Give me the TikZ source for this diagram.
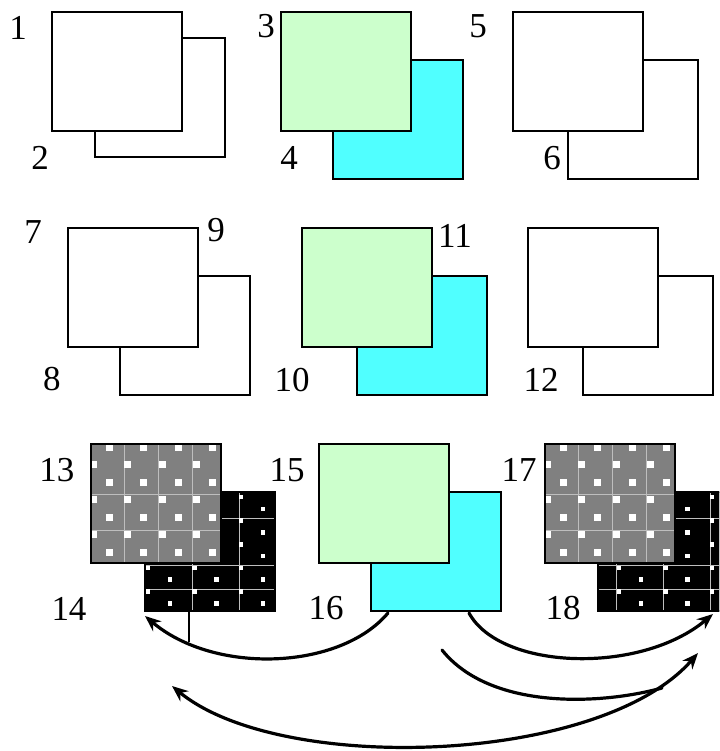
\documentclass[tikz,border=0pt]{standalone}
\usepackage{fontspec}
\setmainfont{Liberation Serif}
\usetikzlibrary{arrows.meta,calc}
\definecolor{leaf}{RGB}{204,255,204}
\definecolor{aqua}{RGB}{80,255,255}
\definecolor{tilegray}{RGB}{128,128,128}
\definecolor{gridgray}{RGB}{190,190,190}
\tikzset{
  sq/.style={draw=black, line width=0.75pt, minimum width=65pt, minimum height=59.5pt, inner sep=0pt, outer sep=0pt, anchor=north west},
  num/.style={font=\fontsize{17.5}{20}\selectfont, inner sep=0pt},
  curvearrow/.style={line width=1.6pt, line cap=round, -{Stealth[length=8pt,width=6.5pt]}},
}
\newcommand\graytile[1]{%
\begin{scope}[shift={(#1.north west)}]
\clip (0,0) rectangle (130,119);
\fill[tilegray] (0,0) rectangle (130,119);
\foreach \x in {33,67,101} \draw[gridgray, line width=0.5pt] (\x,0) -- (\x,119);
\foreach \y in {50,86} \draw[gridgray, line width=0.5pt] (0,\y) -- (130,\y);
\foreach \r in {0,...,6} \foreach \k in {0,...,3} {
  \pgfmathsetmacro\dx{18-16*mod(\r,2)+34.5*\k}
  \pgfmathsetmacro\dy{3+17.5*\r}
  \fill[white] (\dx-3.5,\dy-3.5) rectangle (\dx+3.5,\dy+3.5);
}
\end{scope}
\draw[line width=0.75pt] (#1.north west) rectangle (#1.south east);}
\newcommand\blacktile[2]{%
\begin{scope}[shift={(#1.north west)}]
\clip (0,0) rectangle (130,120);
\fill[black] (0,0) rectangle (130,120);
\foreach \k in {0,1,2} \draw[gridgray, line width=0.5pt] (#2+47*\k,0) -- (#2+47*\k,120);
\foreach \y in {26,73,97} \draw[gridgray, line width=0.5pt] (0,\y) -- (130,\y);
\foreach \r in {0,...,9} \foreach \k in {0,1,2} {
  \pgfmathsetmacro\dx{#2+3+22*mod(\r,2)+46.5*\k}
  \pgfmathsetmacro\dy{5+11.8*\r}
  \fill[white] (\dx-2.3,\dy-2.3) rectangle (\dx+2.3,\dy+2.3);
}
\end{scope}
\draw[line width=0.75pt] (#1.north west) rectangle (#1.south east);}
\begin{document}
\begin{tikzpicture}[x=0.5pt,y=-0.5pt]
\useasboundingbox (0,0) rectangle (719,751);
\begin{scope}
\clip (0,0) rectangle (719,751);
\node[sq] (under1) at (95,38) {};
\node[sq, fill=white] (top1) at (52,12) {};
\node[sq, fill=aqua] (under3) at (333,60) {};
\node[sq, fill=leaf] (top3) at (281,12) {};
\node[sq] (under5) at (568,60) {};
\node[sq, fill=white] (top5) at (513,12) {};
\node[sq] (under7) at (120,276) {};
\node[sq, fill=white] (top7) at (68,228) {};
\node[sq, fill=aqua] (under11) at (357,276) {};
\node[sq, fill=leaf] (top11) at (302,228) {};
\node[sq] (under12) at (583,276) {};
\node[sq, fill=white] (top12) at (528,228) {};
\node[sq, fill=black] (under13) at (145,492) {};
\blacktile{under13}{0}
\node[sq, fill=tilegray] (top13) at (91,444) {};
\graytile{top13}
\node[sq, fill=aqua] (under15) at (371,492) {};
\node[sq, fill=leaf] (top15) at (319,444) {};
\node[sq, fill=black] (under17) at (598,492) {};
\blacktile{under17}{18}
\node[sq, fill=tilegray] (top17) at (545,444) {};
\graytile{top17}
\end{scope}
\node[num] (l1) at (18,28) {1};
\node[num] (l2) at (40,158) {2};
\node[num] (l3) at (266,26) {3};
\node[num] (l4) at (289,158) {4};
\node[num] (l5) at (478,26) {5};
\node[num] (l6) at (552,158) {6};
\node[num] (l7) at (33,232) {7};
\node[num] (l9) at (216,230) {9};
\node[num] (l8) at (52,379) {8};
\node[num] (l11) at (455,236) {11};
\node[num] (l10) at (292,380) {10};
\node[num] (l12) at (541,380) {12};
\node[num] (l13) at (57,470) {13};
\node[num] (l14) at (69,609) {14};
\node[num] (l15) at (287,470) {15};
\node[num] (l16) at (326,608) {16};
\node[num] (l17) at (519,470) {17};
\node[num] (l18) at (563,608) {18};
\draw[line width=0.75pt] ($(under13.south west)+(44,0)$) -- ++(0,31);
\coordinate (c0) at (442,650);
\coordinate (c1) at (662,688);
\coordinate (d0) at (698,653);
\coordinate (d1) at (172,686);
\draw[curvearrow] ($(under15.south west)+(17,2)$) .. controls (340,670) and (215,675) .. ($(under13.south west)+(0,5)$);
\draw[curvearrow] ($(under15.south east)+(-32,2)$) .. controls (500,670) and (640,675) .. ($(under17.south west)+(115,3)$);
\draw[line width=1.6pt, line cap=round] (c0) .. controls (490,710) and (600,705) .. (c1);
\draw[curvearrow, {Stealth[length=8pt,width=6.5pt]}-{Stealth[length=8pt,width=6.5pt]}] (d0) .. controls (600,765) and (280,775) .. (d1);
\end{tikzpicture}
\end{document}
